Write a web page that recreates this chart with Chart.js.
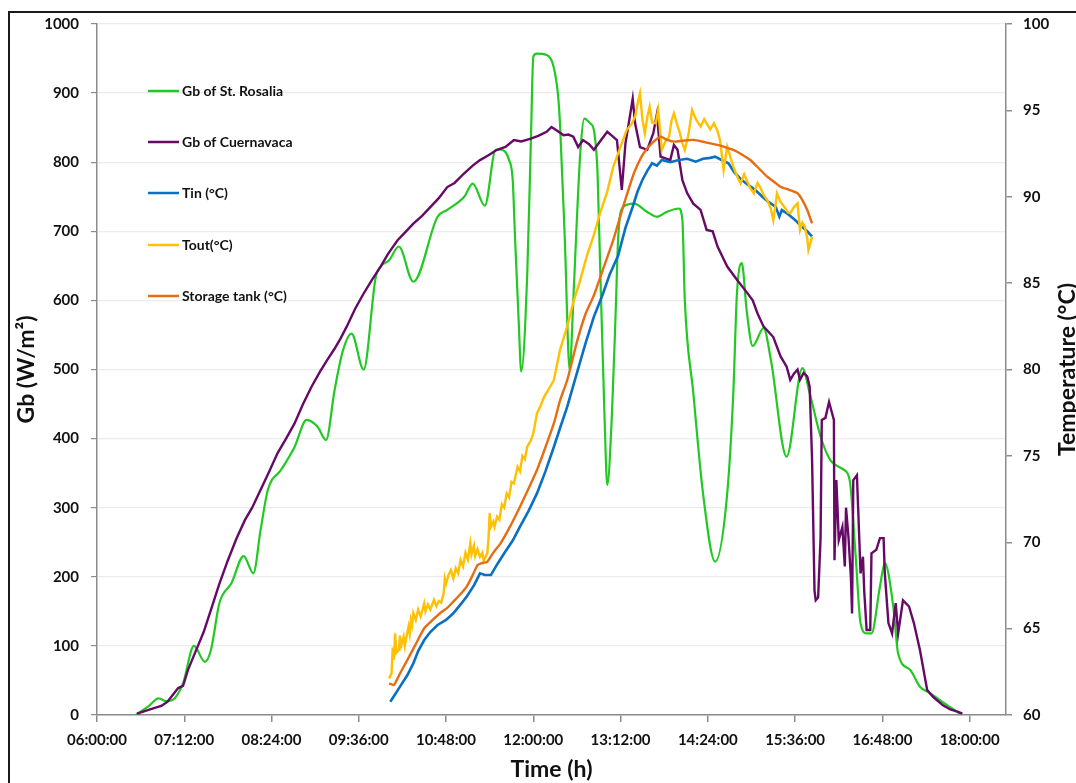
<!DOCTYPE html>
<html>
<head>
<meta charset="utf-8">
<script src="https://cdn.jsdelivr.net/npm/chart.js@4.4.1/dist/chart.umd.min.js"></script>
<style>
  body { margin: 0; background: #fff; }
  #wrap { position: relative; width: 1076px; height: 783px; overflow: hidden; }
</style>
</head>
<body>
<div id="wrap"><canvas id="canvas"></canvas></div>
<script>
// x values are minutes after midnight
const tickTimes = [360, 432, 504, 576, 648, 720, 792, 864, 936, 1008, 1080];
const tickLabels = ['06:00:00', '07:12:00', '08:24:00', '09:36:00', '10:48:00', '12:00:00',
  '13:12:00', '14:24:00', '15:36:00', '16:48:00', '18:00:00'];

const rosaliaTime = [392, 402, 411, 417, 424, 431, 440, 449, 454, 461, 471, 481, 489, 495, 501, 512, 523, 533, 542, 549,
  556, 563, 570, 580, 590, 594, 601, 609, 621, 641, 649, 663, 670, 680, 689, 693, 700, 703, 705, 708,
  710, 715, 718, 720, 723, 731, 740, 742, 746, 750, 753, 756, 759, 762, 767, 770, 773, 775, 779, 781,
  785, 788, 790, 794, 803, 814, 822, 830, 840, 843, 845, 852, 860, 870, 880, 885, 888, 892, 896, 901,
  910, 916, 929, 942, 948, 957, 965, 976, 981, 986, 990, 995, 999, 1006, 1010, 1017, 1021, 1031, 1039, 1048,
  1059, 1072];
const rosaliaGb = [0, 12, 24, 20, 24, 46, 100, 77, 94, 162, 191, 230, 205, 268, 326, 355, 388, 427, 417, 398,
  470, 528, 552, 500, 634, 649, 658, 678, 627, 721, 731, 750, 769, 737, 818, 818, 803, 774, 687, 567,
  497, 639, 832, 953, 957, 955, 904, 856, 687, 499, 600, 720, 820, 863, 856, 846, 784, 658, 417, 333,
  441, 586, 690, 735, 740, 728, 721, 728, 733, 716, 600, 466, 321, 222, 321, 466, 610, 654, 586, 534,
  560, 514, 374, 502, 466, 403, 369, 355, 340, 229, 133, 118, 118, 186, 220, 157, 89, 65, 41, 31,
  17, 2];

const cuernaTime = [393, 400, 407, 413, 418, 422, 427, 431, 435, 443, 448, 454, 461, 468, 475, 482, 488, 495, 502, 509,
  516, 523, 530, 537, 544, 550, 556, 561, 566, 573, 580, 587, 594, 600, 608, 614, 621, 628, 635,
  642, 649, 655, 663, 670, 676, 683, 690, 697, 704, 710, 718, 724, 731, 735, 740, 745, 749, 753, 757,
  761, 766, 770, 775, 781, 785, 789, 793, 796, 800, 802, 804, 808, 814, 819, 822, 825, 833, 836, 839,
  843, 847, 852, 858, 863, 868, 872, 880, 888, 896, 901, 905, 910, 918, 924, 929, 932, 935, 938, 940,
  943, 946, 948, 950, 952, 953, 955, 957, 958, 961, 964, 966, 968, 968.5, 970, 971, 972, 975, 977, 978,
  980, 982, 983, 984, 987, 988, 990, 992, 993, 995, 998, 999, 1003, 1006, 1009, 1010, 1013, 1016, 1019, 1021,
  1025, 1030, 1034, 1039, 1045, 1050, 1058, 1064, 1070, 1074];
const cuernaGb = [2, 6, 10, 13, 19, 28, 39, 42, 65, 99, 120, 152, 190, 224, 255, 282, 300, 326, 352, 379,
  400, 422, 450, 475, 497, 514, 530, 545, 562, 588, 610, 630, 649, 667, 687, 698, 711, 722, 735,
  748, 764, 770, 784, 795, 803, 810, 818, 822, 832, 830, 834, 838, 844, 851, 845, 839, 840, 837, 822,
  832, 826, 818, 830, 844, 838, 832, 760, 827, 870, 892, 856, 822, 818, 842, 870, 808, 803, 825, 818,
  774, 755, 740, 731, 702, 700, 678, 649, 630, 612, 600, 581, 562, 547, 519, 504, 485, 494, 500, 485,
  495, 490, 475, 369, 180, 166, 170, 256, 427, 430, 453, 440, 427, 224, 340, 300, 253, 272, 215, 300,
  258, 200, 147, 340, 347, 300, 205, 229, 180, 123, 123, 234, 239, 256, 256, 205, 133, 118, 162, 118,
  166, 157, 133, 94, 36, 26, 14, 8, 5, 2];

const tinTime = [602, 606, 610, 616, 621, 625, 630, 635, 641, 648, 654, 660, 665, 671, 676, 680, 685, 690, 696, 703,
  709, 716, 723, 730, 737, 742, 748, 756, 763, 770, 777, 783, 790, 796, 802, 806, 810, 814, 818, 822,
  826, 833, 840, 847, 854, 860, 866, 870, 876, 881, 886, 892, 897, 903, 909, 914, 920, 923, 925, 930,
  936, 941, 946, 950];
const tinTemp = [60.77, 61.2, 61.64, 62.3, 62.99, 63.7, 64.34, 64.8, 65.21, 65.5, 65.89, 66.4, 66.85, 67.5, 68.2, 68.1, 68.1, 68.7, 69.36, 70.1,
  70.9, 71.8, 72.83, 74.1, 75.53, 76.6, 77.85, 79.8, 81.5, 83.06, 84.3, 85.5, 86.6, 88.2, 89.42, 90.3, 90.97, 91.5, 91.94, 91.8,
  92.13, 92.0, 92.13, 92.2, 92.03, 92.2, 92.25, 92.32, 92.1, 91.94, 91.4, 90.97, 90.7, 90.4, 90.0, 89.7, 89.42, 88.85, 89.23, 89.0,
  88.65, 88.3, 88.0, 87.69];

const toutTime = [601, 603, 604, 605, 606, 607, 609, 610, 611, 613, 614, 615, 617, 618, 619, 620, 621, 623, 625, 627,
  630, 631, 633, 635, 638, 640, 642, 644, 646, 647, 648, 650, 652, 654, 656, 658, 660, 662, 664, 666,
  668, 669, 671, 672, 674, 676, 678, 679, 682, 683, 684, 685, 687, 688, 690, 692, 694, 696, 698, 700,
  702, 704, 707, 709, 711, 713, 715, 718, 720, 723, 726, 729, 733, 737, 742, 748, 753, 758, 764, 770,
  775, 781, 786, 792, 797, 801, 804, 806, 808, 810, 812, 814, 816, 818, 821, 823, 825, 826, 829, 832,
  834, 836, 839, 841, 843, 845, 848, 851, 854, 858, 861, 863, 866, 869, 872, 874, 877, 880, 883, 885,
  888, 891, 894, 896, 899, 902, 905, 907, 910, 913, 916, 918, 920, 921, 924, 927, 930, 932, 935, 938,
  940, 942, 944, 946, 947, 949, 950];
const toutTemp = [62.12, 62.41, 63.9, 63.2, 64.73, 63.6, 63.76, 64.6, 64.0, 64.53, 64.0, 64.4, 65.11, 64.7, 65.5, 65.2, 65.89, 65.5, 66.1, 65.7,
  66.47, 66.0, 66.4, 66.1, 66.66, 66.3, 66.6, 66.5, 67.04, 67.9, 67.6, 68.1, 68.39, 67.9, 68.5, 68.2, 68.97, 68.6, 69.4, 69.0,
  69.94, 69.3, 69.8, 69.2, 69.6, 69.16, 69.4, 68.9, 69.36, 70.2, 71.68, 70.9, 71.2, 70.9, 71.48, 71.3, 72.2, 72.0, 72.83, 72.6,
  73.5, 73.4, 74.37, 74.1, 75.0, 74.8, 75.53, 75.9, 76.31, 77.46, 77.9, 78.43, 78.9, 79.39, 81.13, 82.5, 83.9, 85.0, 86.53, 87.8,
  89.04, 90.3, 91.74, 92.9, 93.86, 94.2, 94.63, 95.4, 95.99, 94.5, 93.67, 94.6, 95.21, 94.3, 94.25, 95.02, 93.5, 92.71, 93.2, 93.48,
  94.4, 94.83, 94.1, 93.67, 93.1, 92.71, 93.6, 95.02, 94.5, 94.06, 94.5, 94.25, 93.9, 94.25, 93.8, 93.29, 91.55, 92.9, 92.2, 91.74,
  91.2, 90.78, 91.3, 90.97, 90.5, 90.2, 90.8, 90.58, 90.1, 89.81, 89.3, 88.65, 89.6, 90.2, 89.7, 89.42, 89.1, 89.04, 89.4, 89.62,
  88.07, 88.5, 88.26, 87.6, 86.92, 87.4, 87.69];

const tankTime = [601, 605, 610, 616, 623, 630, 637, 643, 649, 654, 660, 665, 670, 674, 678, 682, 687, 693, 700, 709,
  716, 723, 730, 737, 742, 748, 756, 763, 770, 778, 786, 794, 803, 807, 811, 818, 825, 830, 836, 844,
  852, 862, 872, 879, 885, 892, 899, 906, 913, 918, 924, 931, 938, 942, 946, 950];
const tankTemp = [61.83, 61.74, 62.4, 63.18, 64.1, 65.02, 65.5, 65.89, 66.2, 66.56, 67.0, 67.43, 68.1, 68.68, 68.8, 68.87, 69.4, 69.94, 70.8, 72.06,
  73.1, 74.18, 75.5, 76.89, 78.2, 79.39, 81.6, 83.2, 84.3, 85.9, 87.5, 89.4, 91.36, 92.0, 92.52, 93.1, 93.48, 93.3, 93.19, 93.25,
  93.29, 93.15, 93.0, 92.85, 92.71, 92.45, 92.13, 91.65, 91.16, 90.9, 90.58, 90.4, 90.2, 89.8, 89.23, 88.46];

const pts = (xs, ys) => xs.map((x, i) => ({ x: x, y: ys[i] }));

const FONT = 'Lato, Carlito, "Open Sans", sans-serif';
const LABEL = '#111111';
const AXIS = '#8c8c8c';

// Excel style frame around the whole chart
const framePlugin = {
  id: 'frame',
  beforeDraw(chart) {
    const ctx = chart.ctx;
    ctx.save();
    ctx.strokeStyle = '#1a1a1a';
    ctx.lineWidth = 2;
    ctx.strokeRect(9, 12, 1200, 1000);
    ctx.restore();
  }
};

// legend inside the plot area, one entry per row
const legendPlugin = {
  id: 'innerLegend',
  afterDraw(chart) {
    const ctx = chart.ctx;
    const rows = [91, 142, 193, 245, 296];
    ctx.save();
    ctx.font = 'bold 14px ' + FONT;
    ctx.textBaseline = 'middle';
    chart.data.datasets.forEach((ds, i) => {
      const y = rows[i];
      ctx.strokeStyle = ds.borderColor;
      ctx.lineWidth = 2.5;
      ctx.beginPath();
      ctx.moveTo(148, y);
      ctx.lineTo(179, y);
      ctx.stroke();
      ctx.fillStyle = LABEL;
      ctx.fillText(ds.label, 182, y);
    });
    ctx.restore();
  }
};

// right axis title reads bottom-to-top like the left one
const rightTitlePlugin = {
  id: 'rightTitle',
  afterDraw(chart) {
    const ctx = chart.ctx;
    const area = chart.chartArea;
    ctx.save();
    ctx.translate(1068, (area.top + area.bottom) / 2);
    ctx.rotate(-Math.PI / 2);
    ctx.font = 'bold 23px ' + FONT;
    ctx.fillStyle = LABEL;
    ctx.textAlign = 'center';
    ctx.textBaseline = 'middle';
    ctx.fillText('Temperature (°C)', 0, 0);
    ctx.restore();
  }
};

new Chart(document.getElementById('canvas'), {
  type: 'line',
  data: {
    datasets: [
      { label: 'Gb of St. Rosalia', data: pts(rosaliaTime, rosaliaGb), yAxisID: 'y',
        borderColor: '#22c922', borderWidth: 2.2, cubicInterpolationMode: 'monotone', order: 5 },
      { label: 'Gb of Cuernavaca', data: pts(cuernaTime, cuernaGb), yAxisID: 'y',
        borderColor: '#660a66', borderWidth: 2.4, tension: 0, order: 4 },
      { label: 'Tin (°C)', data: pts(tinTime, tinTemp), yAxisID: 'y1',
        borderColor: '#0a70c4', borderWidth: 2.6, tension: 0, order: 3 },
      { label: 'Tout(°C)', data: pts(toutTime, toutTemp), yAxisID: 'y1',
        borderColor: '#ffc000', borderWidth: 2.4, tension: 0, order: 2 },
      { label: 'Storage tank (°C)', data: pts(tankTime, tankTemp), yAxisID: 'y1',
        borderColor: '#e56d14', borderWidth: 2.4, tension: 0.2, order: 1 }
    ]
  },
  options: {
    responsive: true,
    maintainAspectRatio: false,
    animation: false,
    layout: { padding: { top: 24, left: 0, right: 0, bottom: 0 } },
    elements: { point: { radius: 0 } },
    plugins: {
      legend: { display: false },
      tooltip: { enabled: false }
    },
    scales: {
      x: {
        type: 'linear',
        min: 360,
        max: 1110,
        afterBuildTicks: (scale) => { scale.ticks = tickTimes.map((v) => ({ value: v })); },
        afterFit: (scale) => { scale.height = 68; },
        grid: { drawOnChartArea: false, tickColor: AXIS, tickLength: 7, lineWidth: 1.5 },
        border: { color: AXIS, width: 1.5 },
        ticks: {
          autoSkip: false, maxRotation: 0, padding: 9, color: LABEL,
          font: { family: FONT, size: 15, weight: 'bold' },
          callback: (v, i) => tickLabels[i]
        },
        title: {
          display: true, text: 'Time (h)', color: LABEL,
          font: { family: FONT, size: 23, weight: 'bold' },
          padding: { top: 0, bottom: 0 }
        }
      },
      y: {
        position: 'left',
        min: 0,
        max: 1000,
        afterFit: (scale) => { scale.width = 97; },
        grid: { color: '#ececec', lineWidth: 1.2, tickColor: AXIS, tickLength: 6 },
        border: { color: AXIS, width: 1.5 },
        ticks: {
          stepSize: 100, padding: 12, color: LABEL,
          font: { family: FONT, size: 15, weight: 'bold' },
          callback: (v) => String(v)
        },
        title: {
          display: true, text: 'Gb (W/m²)', color: LABEL,
          font: { family: FONT, size: 23, weight: 'bold' },
          padding: { top: 13, bottom: 0 }
        }
      },
      y1: {
        position: 'right',
        min: 60,
        max: 100,
        afterFit: (scale) => { scale.width = 70; },
        grid: { drawOnChartArea: false, tickColor: AXIS, tickLength: 6, lineWidth: 1.5 },
        border: { color: AXIS, width: 1.5 },
        ticks: {
          stepSize: 5, padding: 11, color: LABEL,
          font: { family: FONT, size: 15, weight: 'bold' },
          callback: (v) => String(v)
        }
      }
    }
  },
  plugins: [framePlugin, legendPlugin, rightTitlePlugin]
});
</script>
</body>
</html>
